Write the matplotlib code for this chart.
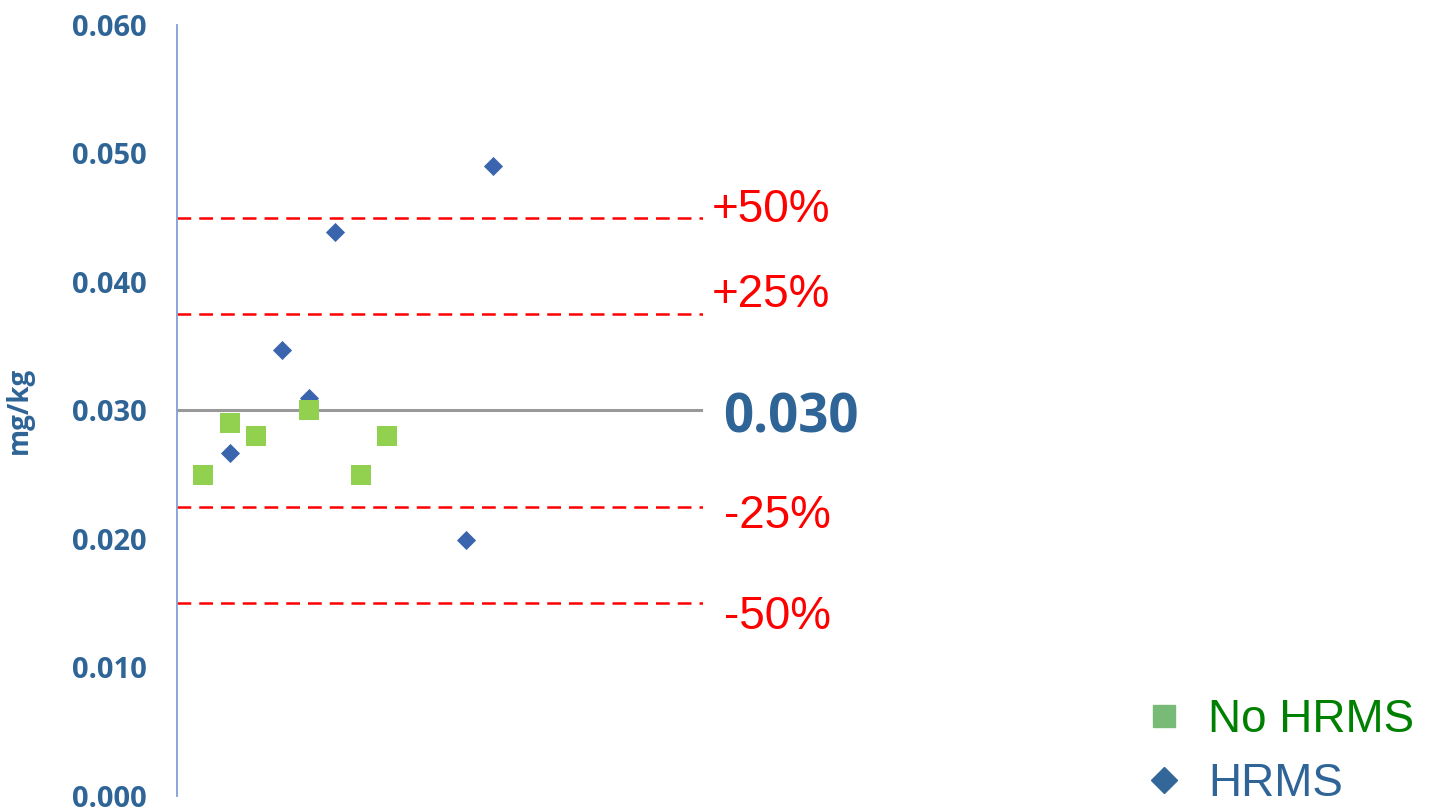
import matplotlib.pyplot as plt
from matplotlib.lines import Line2D

# data
no_hrms_x = [1, 2, 3, 5, 7, 8]
no_hrms_y = [0.025, 0.029, 0.028, 0.030, 0.025, 0.028]
hrms_x = [2, 4, 5, 6, 11, 12]
hrms_y = [0.0267, 0.0347, 0.0310, 0.0439, 0.0199, 0.0490]

target = 0.030
band_labels = ['+50%', '+25%', '-25%', '-50%']
band_factors = [1.50, 1.25, 0.75, 0.50]
yticks = [0.000, 0.010, 0.020, 0.030, 0.040, 0.050, 0.060]

blue = '#2e6496'
fig = plt.figure(figsize=(14.29, 8.10), dpi=100)
ax = fig.add_axes([177 / 1429, 1 - 796 / 810, 526 / 1429, 771 / 810])

ax.set_xlim(0, 20)
ax.set_ylim(0, 0.060)

ax.axhline(target, color='#999999', lw=2.2, zorder=1)
for f in band_factors:
    ax.axhline(target * f, color='#ff0000', lw=1.8, ls=(0, (5.5, 3.2)), zorder=1)

ax.scatter(hrms_x, hrms_y, marker='D', s=95, color='#3a64ad', lw=0, zorder=3)
ax.scatter(no_hrms_x, no_hrms_y, marker='s', s=190, color='#92d050', lw=0, zorder=4)

# labels right of the lines
label_y = [0.0456, 0.0390, 0.0218, 0.0139]
for lab, yy in zip(band_labels, label_y):
    ax.text(24.85, yy, lab, ha='right', va='center', color='#ff0000',
            fontsize=33, family='Liberation Sans', clip_on=False)
ax.text(20.75, 0.0294, '%.3f' % target, ha='left', va='center', color=blue,
        fontsize=38, fontweight='bold', family='Open Sans', clip_on=False)

ax.set_yticks(yticks)
ax.set_yticklabels(['%.3f' % v for v in yticks])
ax.set_xticks([])
ax.tick_params(axis='y', length=0, pad=22, labelsize=21, labelcolor=blue)
for t in ax.get_yticklabels():
    t.set_fontweight('bold')
    t.set_family('Open Sans')
ax.set_ylabel('mg/kg', fontsize=20, fontweight='bold', color=blue,
              family='Open Sans', labelpad=27)

for s in ['top', 'right', 'bottom']:
    ax.spines[s].set_visible(False)
ax.spines['left'].set_color('#7f9fd4')
ax.spines['left'].set_linewidth(1.3)

handles = [Line2D([], [], marker='s', ls='none', color='#77bb77', markersize=16.5),
           Line2D([], [], marker='D', ls='none', color='#336699', markersize=13.5)]
leg = fig.legend(handles, ['No HRMS', 'HRMS'], loc='lower right',
                 bbox_to_anchor=(1.012, -0.035), frameon=False,
                 prop={'family': 'Liberation Sans', 'size': 33},
                 handlelength=1.0, handletextpad=0.45,
                 labelspacing=0.45, borderpad=0.2)
leg.get_texts()[0].set_color('#008000')
leg.get_texts()[1].set_color(blue)

fig.savefig('out.png', dpi=100)
